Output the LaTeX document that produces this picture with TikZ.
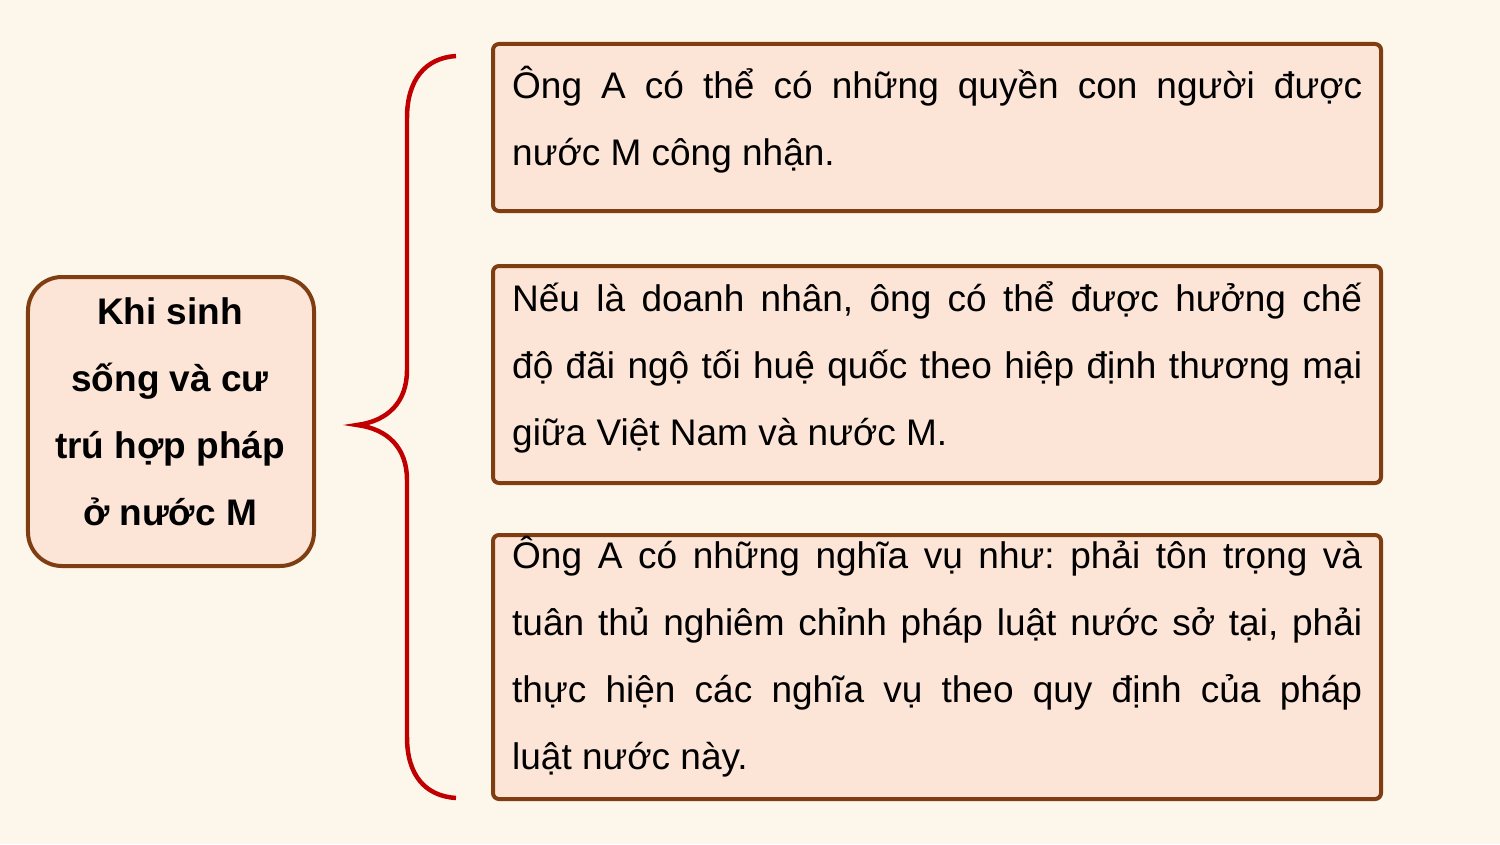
\documentclass[tikz,border=0pt]{standalone}
\usepackage{fontspec}
\setmainfont{Liberation Sans}
\frenchspacing
\definecolor{bgc}{HTML}{FDF6EA}
\definecolor{peach}{HTML}{FCE4D6}
\definecolor{brownc}{HTML}{7E3E12}
\definecolor{bracered}{HTML}{C00000}
\tikzset{
  sidebox/.style={draw=brownc, fill=peach, line width=4bp, rounded corners=34bp, inner sep=0pt},
  itembox/.style={draw=brownc, fill=peach, line width=4bp, rounded corners=6bp, inner sep=0pt},
  bracepath/.style={draw=bracered, line width=4.5pt},
  txt/.style={anchor=base west, inner sep=0pt, align=left, font=\fontsize{37bp}{67bp}\selectfont},
  sidetxt/.style={anchor=base, inner sep=0pt, align=center, font=\fontsize{37bp}{67bp}\selectfont\bfseries}
}
\newcommand{\jline}[1]{\makebox[850bp][s]{#1}}
\begin{document}
\begin{tikzpicture}[x=1bp,y=-1bp]
\path[fill=bgc] (0,0) rectangle (1500,844);
\useasboundingbox (0,0) rectangle (1500,844);
% left box
\node[sidebox, minimum width=286bp, minimum height=289bp] (side) at (171,421.5) {};
\node[sidetxt] (sidet) at (170,525) {Khi sinh\\sống và cư\\trú hợp pháp\\ở nước M};
% right boxes
\node[itembox, minimum width=888bp, minimum height=167bp] (b1) at (937,127.5) {};
\node[itembox, minimum width=888bp, minimum height=217bp] (b2) at (937,374.5) {};
\node[itembox, minimum width=888bp, minimum height=264bp] (b3) at (937,667) {};
\node[txt] (t1) at (512,165) {\jline{Ông A có thể có những quyền con người được}\\nước M công nhận.};
\node[txt] (t2) at (512,445) {\jline{Nếu là doanh nhân, ông có thể được hưởng chế}\\\jline{độ đãi ngộ tối huệ quốc theo hiệp định thương mại}\\giữa Việt Nam và nước M.};
\node[txt] (t3) at (512,769) {\jline{Ông A có những nghĩa vụ như: phải tôn trọng và}\\\jline{tuân thủ nghiêm chỉnh pháp luật nước sở tại, phải}\\\jline{thực hiện các nghĩa vụ theo quy định của pháp}\\luật nước này.};
% brace
\coordinate (btop) at (456,56);
\coordinate (btip) at (357,425);
\coordinate (bbot) at (456,798);
\draw[bracepath] (btop) .. controls (425,58) and (407,80) .. (407,118)
  -- (407,370) .. controls (407,402) and (388,421) .. (btip)
  .. controls (388,429) and (407,448) .. (407,480)
  -- (407,737) .. controls (407,775) and (425,796) .. (bbot);
\end{tikzpicture}
\end{document}
